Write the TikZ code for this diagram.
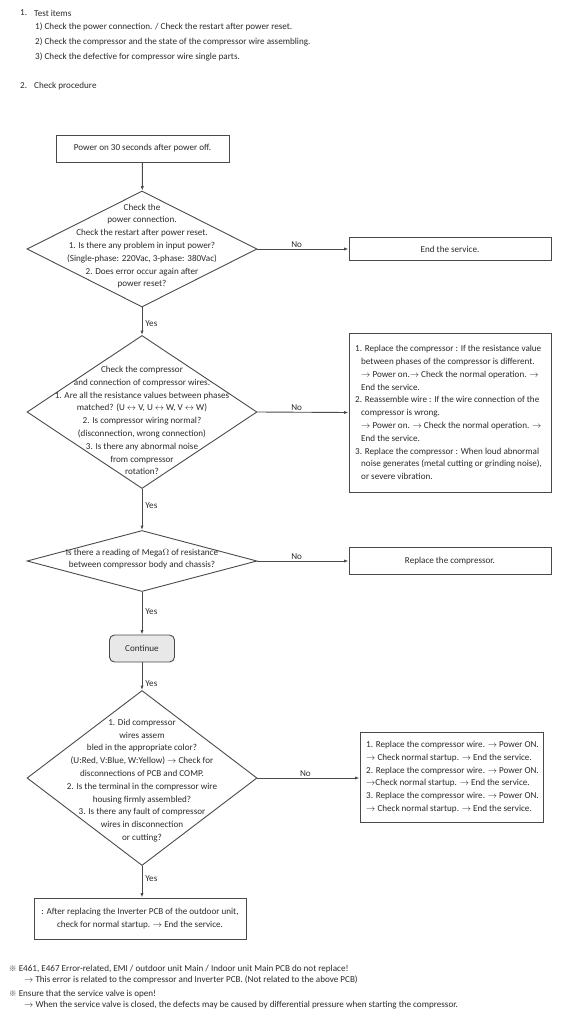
\documentclass[tikz,border=0pt]{standalone}
\usepackage{fontspec}
\setmainfont{Carlito}
\newfontfamily\cjk{Noto Sans CJK SC}
\usetikzlibrary{arrows.meta,shapes.geometric}
\definecolor{txt}{HTML}{2A2A2A}
\definecolor{ln}{HTML}{4A4A4A}
\newcommand{\rarr}{$\rightarrow$}
\newcommand{\lrarr}{$\leftrightarrow$}
\newcommand{\refmark}{{\cjk\fontsize{7.5}{8}\selectfont ※}}
\begin{document}
\begin{tikzpicture}[x=1pt,y=-1pt,
  every node/.style={text=txt,font=\fontsize{9.1}{12.8}\selectfont},
  boxn/.style={draw=ln,line width=0.9pt,rectangle,inner sep=0pt,align=center},
  diam/.style={draw=ln,line width=0.9pt,diamond,inner sep=0pt},
  dtext/.style={align=center,inner sep=0pt},
  plain/.style={anchor=west,inner sep=0pt},
  ltext/.style={anchor=west,align=left,inner sep=0pt},
  arr/.style={draw=ln,line width=0.9pt,-{Latex[length=4.5pt,width=3.2pt]}},
  lab/.style={inner sep=1pt}]
\useasboundingbox (0,0) rectangle (580,1024);
% header
\node[plain] (h1n) at (20,13) {1.};
\node[plain] (h1) at (34,13) {Test items};
\node[plain] (h11) at (35,27) {1) Check the power connection. / Check the restart after power reset.};
\node[plain] (h12) at (35,42) {2) Check the compressor and the state of the compressor wire assembling.};
\node[plain] (h13) at (35,57) {3) Check the defective for compressor wire single parts.};
\node[plain] (h2n) at (20,86) {2.};
\node[plain] (h2) at (34,86) {Check procedure};
% flow
\node[boxn,minimum width=173,minimum height=27] (b1) at (142.5,148.5) {Power on 30 seconds after power off.};
\node[diam,minimum width=230,minimum height=116] (d1) at (142,249) {};
\node[dtext] (d1t) at (142,246) {Check the\\power connection.\\Check the restart after power reset.\\1. Is there any problem in input power?\\(Single-phase: 220Vac, 3-phase: 380Vac)\\2. Does error occur again after\\power reset?};
\node[boxn,minimum width=202,minimum height=23] (e1) at (450,249) {End the service.};
\node[diam,minimum width=230,minimum height=153] (d2) at (142,412) {};
\node[dtext] (d2t) at (142,420.5) {Check the compressor\\and connection of compressor wires.\\1. Are all the resistance values between phases\\matched? (U \lrarr\ V, U \lrarr\ W, V \lrarr\ W)\\2. Is compressor wiring normal?\\(disconnection, wrong connection)\\3. Is there any abnormal noise\\from compressor\\rotation?};
\node[boxn,minimum width=202,minimum height=159] (b2) at (450,412.5) {};
\node[ltext] (b2t) at (355,412.5) {1. Replace the compressor : If the resistance value\\
\hspace*{6pt}between phases of the compressor is different.\\
\hspace*{6pt}\rarr\ Power on.\rarr\ Check the normal operation. \rarr\\
\hspace*{6pt}End the service.\\
2. Reassemble wire : If the wire connection of the\\
\hspace*{6pt}compressor is wrong.\\
\hspace*{6pt}\rarr\ Power on. \rarr\ Check the normal operation. \rarr\\
\hspace*{6pt}End the service.\\
3. Replace the compressor : When loud abnormal\\
\hspace*{6pt}noise generates (metal cutting or grinding noise),\\
\hspace*{6pt}or severe vibration.};
\node[diam,minimum width=230,minimum height=61] (d3) at (142,561) {};
\node[dtext] (d3t) at (142,559) {Is there a reading of Mega$\Omega$ of resistance\\between compressor body and chassis?};
\node[boxn,minimum width=202,minimum height=27] (b3) at (450,561) {Replace the compressor.};
\node[boxn,rounded corners=5pt,fill=black!9,minimum width=65,minimum height=27] (cont) at (142,648.5) {Continue};
\node[diam,minimum width=230,minimum height=175] (d4) at (142,778) {};
\node[dtext] (d4t) at (142,780.5) {1. Did compressor\\wires assem\\bled in the appropriate color?\\(U:Red, V:Blue, W:Yellow) \rarr\ Check for\\disconnections of PCB and COMP.\\2. Is the terminal in the compressor wire\\housing firmly assembled?\\3. Is there any fault of compressor\\wires in disconnection\\or cutting?};
\node[boxn,minimum width=183,minimum height=90] (b4) at (451.5,777) {};
\node[ltext] (b4t) at (366,777) {1. Replace the compressor wire. \rarr\ Power ON.\\
\rarr\ Check normal startup. \rarr\ End the service.\\
2. Replace the compressor wire. \rarr\ Power ON.\\
\rarr Check normal startup. \rarr\ End the service.\\
3. Replace the compressor wire. \rarr\ Power ON.\\
\rarr\ Check normal startup. \rarr\ End the service.};
\node[boxn,minimum width=212,minimum height=41] (b5) at (140,918.5) {: After replacing the Inverter PCB of the outdoor unit,\\check for normal startup. \rarr\ End the service.};
% connectors
\draw[arr] (b1) -- (d1);
\draw[arr] (d1.east) -- node[lab,above,pos=0.43] {No} (e1.west);
\draw[arr] (d1.south) -- node[lab,right,pos=0.6,xshift=2pt] {Yes} (d2.north);
\draw[arr] (d2.east) -- node[lab,above,pos=0.43] {No} (b2.west);
\draw[arr] (d2.south) -- node[lab,right,pos=0.4,xshift=2pt] {Yes} (d3.north);
\draw[arr] (d3.east) -- node[lab,above,pos=0.43] {No} (b3.west);
\draw[arr] (d3.south) -- node[lab,right,pos=0.45,xshift=2pt] {Yes} (cont.north);
\draw[arr] (cont.south) -- node[lab,right,pos=0.75,xshift=2pt] {Yes} (d4.north);
\draw[arr] (d4.east) -- node[lab,above,pos=0.47] {No} (d4.east -| b4.west);
\draw[arr] (d4.south) -- node[lab,right,pos=0.4,xshift=2pt] {Yes} (d4.south |- b5.north);
% notes
\node[plain] (n1) at (9,969) {\refmark\ E461, E467 Error-related, EMI / outdoor unit Main / Indoor unit Main PCB do not replace!};
\node[plain] (n2) at (24,980) {\rarr\ This error is related to the compressor and Inverter PCB. (Not related to the above PCB)};
\node[plain] (n3) at (9,994) {\refmark\ Ensure that the service valve is open!};
\node[plain] (n4) at (24,1005) {\rarr\ When the service valve is closed, the defects may be caused by differential pressure when starting the compressor.};
\end{tikzpicture}
\end{document}
